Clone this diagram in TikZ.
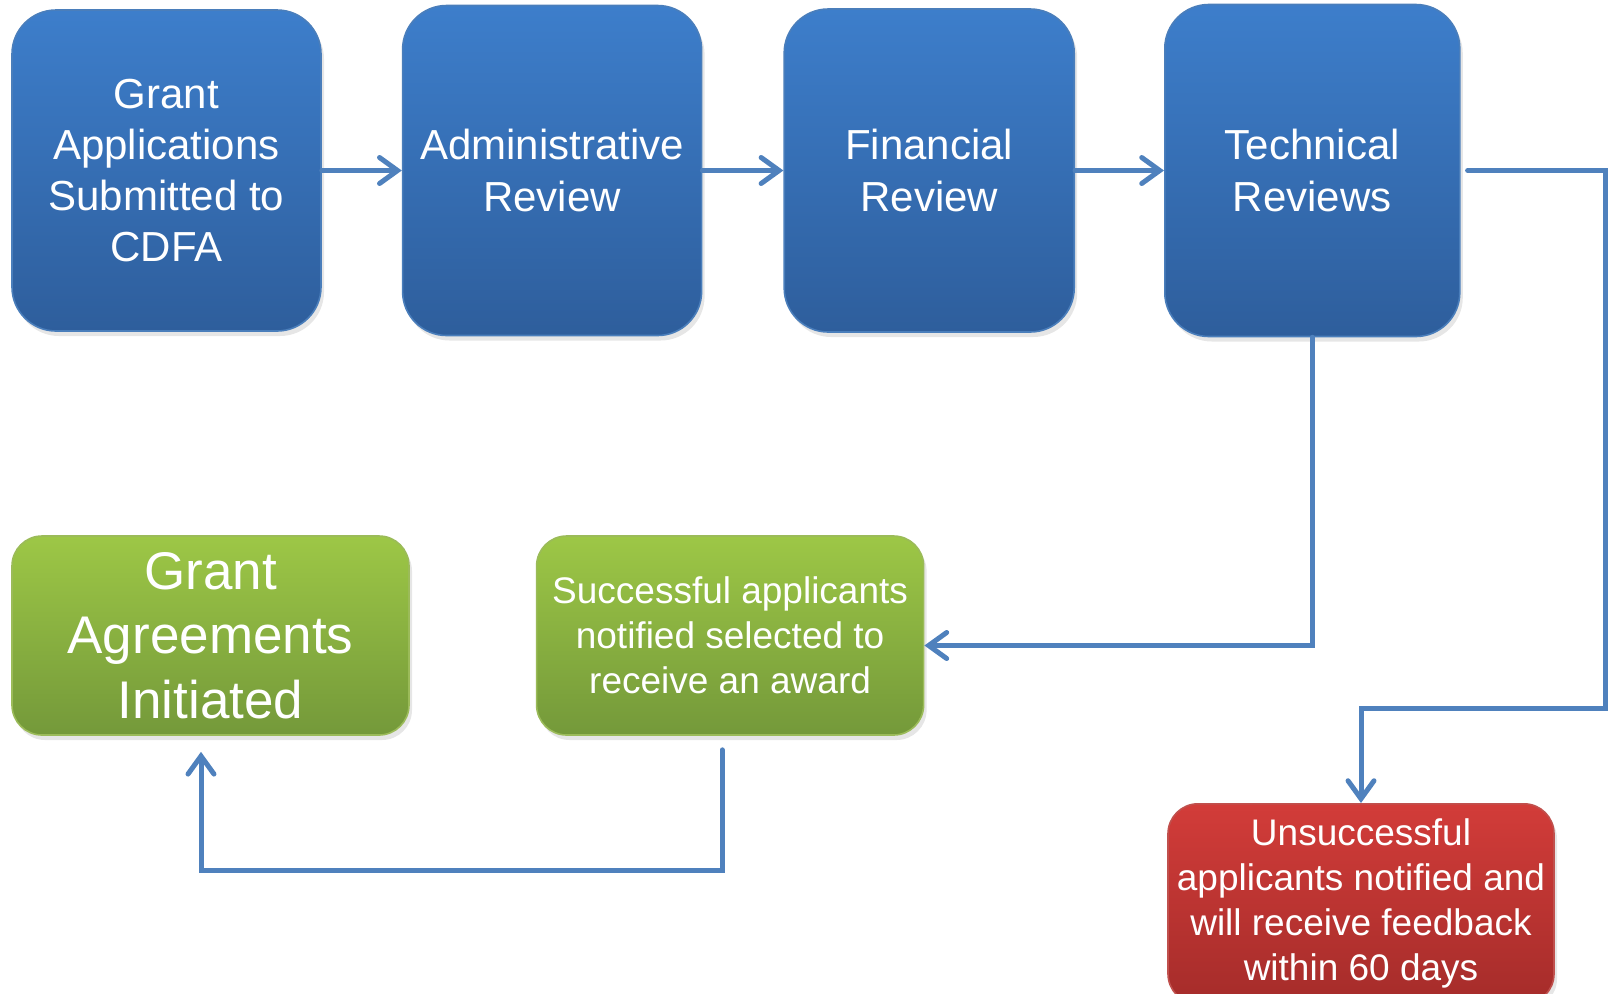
\documentclass[tikz,border=0pt]{standalone}
\usepackage{fontspec}
\setmainfont{Liberation Sans}
\usetikzlibrary{arrows.meta, positioning, calc, shadows}

\definecolor{stageTop}{HTML}{3D7ECB}
\definecolor{stageBot}{HTML}{2E5E9C}
\definecolor{stageEdge}{HTML}{4A7EBB}
\definecolor{okTop}{HTML}{9DC746}
\definecolor{okBot}{HTML}{74993A}
\definecolor{okEdge}{HTML}{9BBB59}
\definecolor{noTop}{HTML}{D23C39}
\definecolor{noBot}{HTML}{A52C2A}
\definecolor{noEdge}{HTML}{C0504D}
\definecolor{link}{HTML}{4F81BD}

\begin{document}
\begin{tikzpicture}[
                x=0.5pt, y=-0.5pt,
                stage/.style={draw=stageEdge, line width=0.8pt, rounded corners=22pt,
                  top color=stageTop, bottom color=stageBot, text=white, align=center,
                  inner sep=0pt, font=\fontsize{21}{25.6}\selectfont,
                  drop shadow={shadow xshift=1.5pt, shadow yshift=-2.5pt, opacity=0.2}},
                okbox/.style={draw=okEdge, line width=0.8pt, rounded corners=15pt,
                  top color=okTop, bottom color=okBot, text=white, align=center,
                  inner sep=0pt, minimum width=195pt, minimum height=99.5pt,
                  drop shadow={shadow xshift=1.5pt, shadow yshift=-2.5pt, opacity=0.2}},
                nobox/.style={draw=noEdge, line width=0.8pt, rounded corners=15pt,
                  top color=noTop, bottom color=noBot, text=white, align=center,
                  inner sep=0pt, minimum width=193pt, minimum height=100pt,
                  font=\fontsize{18.5}{22.5}\selectfont,
                  drop shadow={shadow xshift=1.5pt, shadow yshift=-2.5pt, opacity=0.2}},
                conn/.style={draw=link, line width=2.5pt, line cap=round,
                  -{Straight Barb[length=9pt, width=13pt, line cap=round]}},
            ]

                \useasboundingbox (0,0) rectangle (1608,993);

                % Review stages
                \node[stage, minimum width=154.5pt, minimum height=160.5pt] (submit) at (166.5,170.5)
                  {Grant\\Applications\\Submitted to\\CDFA};
                \node[stage, minimum width=149.5pt, minimum height=165pt, right=40pt of submit] (admin)
                  {Administrative\\Review};
                \node[stage, minimum width=145pt, minimum height=161.5pt, right=40.5pt of admin] (finance)
                  {Financial\\Review};
                \node[stage, minimum width=147.5pt, minimum height=166pt, right=44.5pt of finance] (tech)
                  {Technical\\Reviews};

                % Outcomes
                \node[okbox, minimum width=198.5pt, font=\fontsize{26.5}{32.3}\selectfont] (agree) at (210.5,635.5)
                  {Grant\\Agreements\\Initiated};
                \node[okbox, minimum width=193.5pt, font=\fontsize{18.5}{22.5}\selectfont, right=63pt of agree] (award)
                  {Successful applicants\\notified selected to\\receive an award};
                \node[nobox, anchor=north] (reject) at (1361,803)
                  {Unsuccessful\\applicants notified and\\will receive feedback\\within 60 days};

                % Corners of the long links
                \coordinate (edge) at (1605,708);
                \coordinate (loop) at (201,870);

                % Stage to stage
                \draw[conn] (submit.east) -- (admin.west);
                \draw[conn] (admin.east) -- (finance.west);
                \draw[conn] (finance.east) -- (tech.west);

                % Technical reviews to outcomes
                \draw[conn] (tech.south) |- ([yshift=-5pt]award.east);
                \draw[conn, shorten <=3.5pt] (tech.east) -- (tech.east -| edge) -- (edge) -| (reject.north);

                % Award to agreements
                \draw[conn, shorten <=7pt, shorten >=8pt] ([xshift=-4pt]award.south) |- (loop) -- (loop |- agree.south);
            \end{tikzpicture}
\end{document}
